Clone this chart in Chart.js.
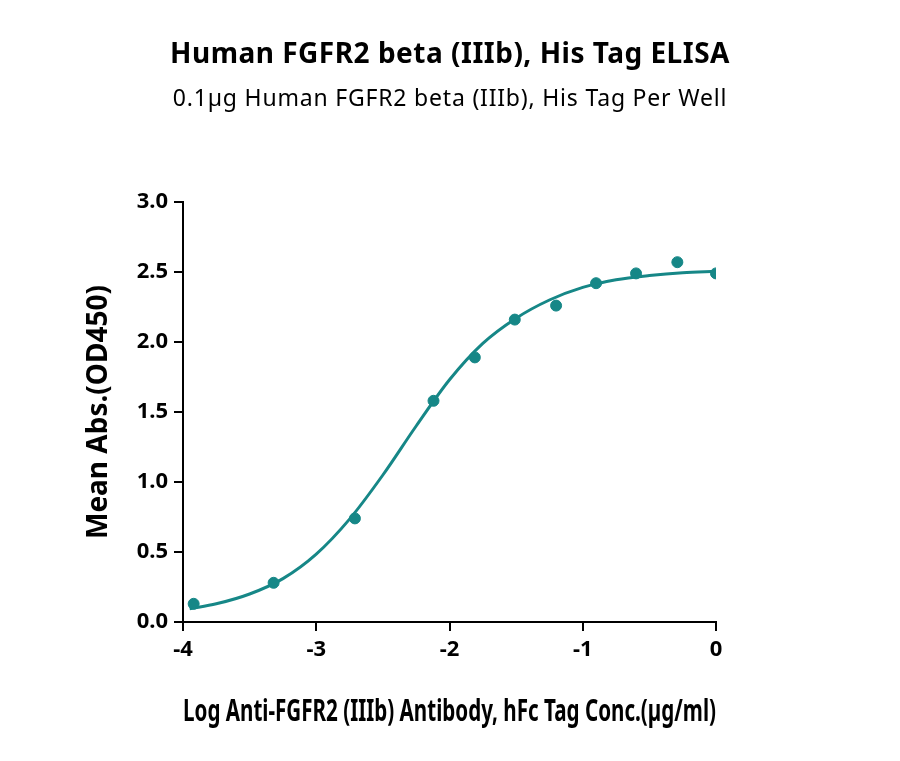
<!DOCTYPE html>
<html><head><meta charset="utf-8">
<script src="https://cdn.jsdelivr.net/npm/chart.js@4"></script>
<style>
body{margin:0;background:#fff;font-family:"Noto Sans",sans-serif;}
#wrap{position:relative;width:900px;height:761px;}
#t1{position:absolute;top:33px;width:900px;text-align:center;font-weight:bold;font-size:28px;letter-spacing:0.5px;}
#t2{position:absolute;top:81px;width:900px;text-align:center;font-size:23px;letter-spacing:0.8px;}
canvas{position:absolute;left:0;top:0;}
</style></head><body>
<div id="wrap">
<canvas id="c" width="900" height="761"></canvas>
<div id="t1">Human FGFR2 beta (IIIb), His Tag ELISA</div>
<div id="t2">0.1µg Human FGFR2 beta (IIIb), His Tag Per Well</div>
</div>
<script>
const logConc=[-3.92,-3.32,-2.71,-2.12,-1.81,-1.51,-1.2,-0.9,-0.6,-0.29,0];
const meanAbs=[0.13,0.28,0.74,1.58,1.89,2.16,2.26,2.42,2.49,2.57,2.49];
const curveX=[-3.95,-3.75,-3.5,-3.25,-3.0,-2.75,-2.5,-2.25,-2.0,-1.75,-1.5,-1.25,-1.0,-0.75,-0.5,-0.25,0];
const curveY=[0.095,0.13,0.2,0.31,0.485,0.735,1.05,1.40,1.73,1.99,2.17,2.30,2.39,2.445,2.475,2.495,2.505];
const teal='#168787';
const tickFont={family:'Noto Sans',size:22,weight:'bold'};
new Chart(document.getElementById('c'),{
type:'scatter',
data:{datasets:[
{data:logConc.map((x,i)=>({x,y:meanAbs[i]})),backgroundColor:teal,borderColor:teal,pointRadius:5.5},
{type:'line',data:curveX.map((x,i)=>({x,y:curveY[i]})),borderColor:teal,borderWidth:3,pointRadius:0,fill:false,cubicInterpolationMode:'monotone'}
]},
options:{responsive:false,animation:false,
layout:{padding:{top:202,right:184,left:78,bottom:27}},
plugins:{legend:{display:false},tooltip:{enabled:false}},
scales:{
x:{type:'linear',min:-4,max:0,
 ticks:{stepSize:1,color:'#000',font:tickFont,padding:6},
 grid:{drawOnChartArea:false,drawTicks:true,tickLength:9,color:'#000',lineWidth:2},
 border:{color:'#000',width:2},
 title:{display:true,text:'Log Anti-FGFR2 (IIIb) Antibody, hFc Tag Conc.(µg/ml)',color:'#000',font:{family:'Noto Sans',size:30,weight:'bold'},padding:{top:8}},
 afterFit:s=>{s.height=112;}},
y:{min:0,max:3,
 ticks:{stepSize:0.5,color:'#000',font:tickFont,padding:6,callback:v=>v.toFixed(1)},
 grid:{drawOnChartArea:false,drawTicks:true,tickLength:9,color:'#000',lineWidth:2},
 border:{color:'#000',width:2},
 title:{display:true,text:'Mean Abs.(OD450)',color:'#000',font:{family:'Noto Sans',size:28,weight:'bold'},padding:{bottom:4}},
 afterFit:s=>{s.width=105;}}
}}});
</script></body></html>
